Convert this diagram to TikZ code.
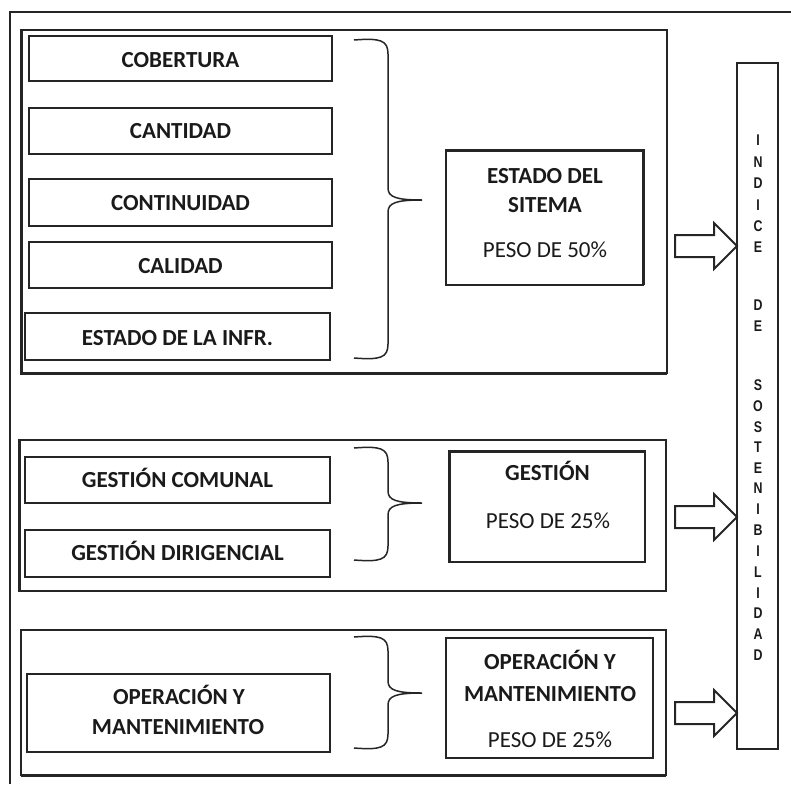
\documentclass[tikz,border=0pt]{standalone}
\usepackage{fontspec}
\setmainfont{Carlito}
\newfontfamily\arialfont{Liberation Sans}
\definecolor{linec}{HTML}{252525}
\definecolor{txtc}{HTML}{1A1A1A}
\newcommand\mybrace[3]{%
  \draw[ln] (354,#1) .. controls (380,#1-2) and (388,#1) .. (388,#1+14) -- (388,#2-12)
    .. controls (388,#2-3) and (396,#2) .. (422,#2)
    .. controls (396,#2) and (388,#2+3) .. (388,#2+12) -- (388,#3-14)
    .. controls (388,#3) and (380,#3+2) .. (354,#3);}
\newcommand\blockarr[1]{%
  \draw[ln, line width=2pt, line join=miter] (675,#1-11) -- (714,#1-11) -- (714,#1-23) -- (737,#1) -- (714,#1+23)
    -- (714,#1+11) -- (675,#1+11) -- cycle;}
\begin{document}
\begin{tikzpicture}[x=1pt,y=-1pt,
  ln/.style={draw=linec, line width=1.5pt},
  box/.style={ln, rectangle, inner sep=0pt, outer sep=0pt},
  thk/.style={draw=linec, line width=3pt},
  lbl/.style={font=\fontsize{23}{27}\selectfont\bfseries, text=txtc, anchor=base, inner sep=0pt},
  lblr/.style={font=\fontsize{23}{27}\selectfont, text=txtc, anchor=base, inner sep=0pt},
  letter/.style={font=\arialfont\bfseries\fontsize{15.5}{15.5}\selectfont, text=txtc, inner sep=0pt, xscale=0.8, transform shape}]
\useasboundingbox (0,0) rectangle (791,784);
% outer frame
\draw[ln] (10,784) -- (10,12) -- (791,12);
% group boxes
\node[box, minimum width=646pt, minimum height=343pt] (g1) at (344,201.5) {};
\node[box, minimum width=647pt, minimum height=151pt] (g2) at (342.5,515.5) {};
\node[box, minimum width=645pt, minimum height=145pt] (g3) at (343.5,702.5) {};
\draw[thk] (g1.north west) -- (g1.south west) -- (g1.south east);
\draw[thk] (g2.north west) -- (g2.south west);
\draw[thk] (g3.south west) -- (g3.south east);
% left items
\node[box, minimum width=303pt, minimum height=45pt] (cob) at (180.5,58.5) {};
\node[box, minimum width=303pt, minimum height=46pt] (can) at (180.5,131) {};
\node[box, minimum width=303pt, minimum height=47pt] (con) at (180.5,202.5) {};
\node[box, minimum width=303pt, minimum height=46pt] (cal) at (180.5,265) {};
\node[box, minimum width=305pt, minimum height=47pt] (inf) at (177.5,336.5) {};
\draw[draw=linec, line width=2.5pt] (inf.north west) -- (inf.south west);
\node[box, minimum width=305pt, minimum height=46pt] (gcom) at (177.5,480) {};
\node[box, minimum width=305pt, minimum height=47pt] (gdir) at (177.5,553.5) {};
\node[box, minimum width=303pt, minimum height=78pt] (oml) at (178.5,713) {};
\node[lbl] (tcob) at (180.5,67) {COBERTURA};
\node[lbl] (tcan) at (180.5,138.5) {CANTIDAD};
\node[lbl] (tcon) at (180.5,210) {CONTINUIDAD};
\node[lbl] (tcal) at (180.5,273) {CALIDAD};
\node[lbl] (tinf) at (177.5,345) {ESTADO DE LA INFR.};
\node[lbl] (tgcom) at (177.5,487) {GESTIÓN COMUNAL};
\node[lbl] (tgdir) at (177.5,560) {GESTIÓN DIRIGENCIAL};
\node[lbl] (toml1) at (179,704) {OPERACIÓN Y};
\node[lbl] (toml2) at (178,734) {MANTENIMIENTO};
% braces
\mybrace{40}{200}{358}
\mybrace{448}{503}{560}
\mybrace{637}{693}{748}
% right boxes
\node[box, minimum width=197pt, minimum height=135pt] (est) at (544.5,217.5) {};
\draw[thk] (est.north west) -- (est.north east) -- (est.south east);
\node[box, minimum width=196pt, minimum height=111pt] (ges) at (547,506.5) {};
\draw[thk] (ges.south west) -- (ges.north west) -- (ges.north east);
\node[box, minimum width=207pt, minimum height=120pt] (omr) at (549.5,698) {};
\node[lbl] (test1) at (545,183) {ESTADO DEL};
\node[lbl] (test2) at (545,212) {SITEMA};
\node[lblr] (test3) at (545,257) {PESO DE 50\%};
\node[lbl] (tges1) at (547.5,480) {GESTIÓN};
\node[lblr] (tges2) at (548,528) {PESO DE 25\%};
\node[lbl] (tomr1) at (550,669) {OPERACIÓN Y};
\node[lbl] (tomr2) at (550,701) {MANTENIMIENTO};
\node[lblr] (tomr3) at (550,747) {PESO DE 25\%};
% index column
\node[box, minimum width=41pt, minimum height=686pt] (ind) at (757.5,406) {};
\foreach \c/\y [count=\i] in {I/140,N/162,D/183,I/205,C/226,E/247,D/305,E/326,S/385,O/406,S/427,T/447,E/468,N/488,I/509,B/530,I/551,L/572,I/593,D/613,A/634,D/655}
  \node[letter] (l\i) at (758,\y) {\c};
% block arrows
\blockarr{246}
\blockarr{517}
\blockarr{713}
\end{tikzpicture}
\end{document}
